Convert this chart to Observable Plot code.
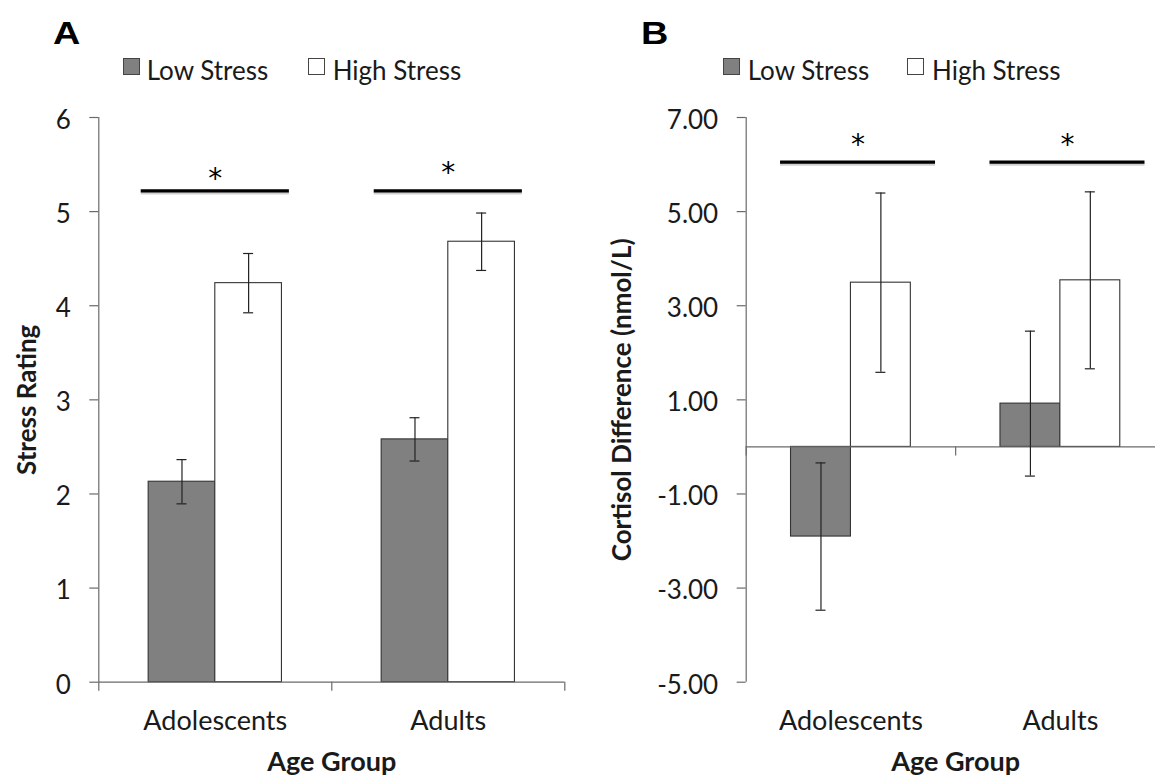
<!DOCTYPE html>
<html>
<head>
<meta charset="utf-8">
<script src="https://cdn.jsdelivr.net/npm/d3@7"></script>
<script src="https://cdn.jsdelivr.net/npm/@observablehq/plot@0.6"></script>
<style>
  html, body { margin: 0; padding: 0; background: #fff; overflow: hidden; }
  #wrap { display: flex; width: 1155px; height: 776px; overflow: hidden; background: #fff; }
  .panel { position: relative; flex: none; overflow: hidden; }
  .head { position: relative; height: 95px; }
  .letter { position: absolute; top: 18px; font-family: "Liberation Sans", Arial, sans-serif; font-weight: bold; font-size: 31px; line-height: 1; color: #000; transform: scaleX(1.22); transform-origin: left center; }
  .sw { position: absolute; top: 58px; width: 15px; height: 15px; border: 1px solid #444; }
  .lt { position: absolute; top: 57px; font-family: Lato, sans-serif; font-size: 26px; line-height: 1; color: #1a1a1a; white-space: nowrap; }
  svg { display: block; }
</style>
</head>
<body>
<div id="wrap"></div>
<script>
// ---------- data ----------
const groups = ["Adolescents", "Adults"];
const conditions = ["Low Stress", "High Stress"];
const conditionColors = ["#808080", "#ffffff"];

// Panel A: stress rating
const ratingLow = [2.13, 2.58];
const ratingLowSE = [0.235, 0.23];
const ratingHigh = [4.24, 4.68];
const ratingHighSE = [0.315, 0.305];
const ratingTicks = [0, 1, 2, 3, 4, 5, 6];
const ratingSigY = [5.22, 5.22];
const ratingStarY = [5.41, 5.47];

// Panel B: cortisol difference
const cortisolLow = [-1.905, 0.92];
const cortisolLowSE = [1.565, 1.54];
const cortisolHigh = [3.49, 3.54];
const cortisolHighSE = [1.905, 1.88];
const cortisolTicks = [-5, -3, -1, 1, 3, 5, 7];
const cortisolSigY = [6.05, 6.05];
const cortisolStarY = [6.55, 6.55];

// ---------- helpers ----------
const BAR = 0.286;       // bar width as a fraction of the group band
const AXIS = "#6a6a6a";
const INK = "#1a1a1a";

function makeRows(low, lowSE, high, highSE) {
  return groups.flatMap((g, i) => [
    {group: g, gi: i, ci: 0, condition: conditions[0], mean: low[i], se: lowSE[i]},
    {group: g, gi: i, ci: 1, condition: conditions[1], mean: high[i], se: highSE[i]}
  ]);
}
const bx1 = d => d.gi + 0.5 - (d.ci === 0 ? BAR : 0);
const bx2 = d => bx1(d) + BAR;
const bxc = d => bx1(d) + BAR / 2;

function chart(o) {
  const rows = makeRows(o.low, o.lowSE, o.high, o.highSE);
  const sig = groups.map((g, i) => ({gi: i, y: o.sigY[i], star: o.starY[i]}));
  const sc = d => d.gi + 0.5 + o.sigShift;
  return Plot.plot({
    width: o.width,
    height: 681,
    marginTop: 22,
    marginBottom: 94.3,
    marginLeft: o.marginLeft,
    marginRight: o.marginRight,
    style: {fontFamily: "Lato, sans-serif", fontSize: "25px", color: INK, background: "white"},
    x: {domain: [0, 2]},
    y: {domain: o.yDomain},
    color: {domain: conditions, range: conditionColors},
    marks: [
      // axis lines and tick marks
      Plot.ruleX([0], {stroke: AXIS, strokeWidth: 1.2}),
      Plot.ruleY(o.yTicks, {x1: () => 0, x2: () => 0, insetLeft: -9, stroke: AXIS, strokeWidth: 1.2}),
      Plot.axisY({ticks: o.yTicks, tickSize: 0, tickPadding: 28, tickFormat: o.tickFormat, fontSize: 26, dy: 3, fill: INK, label: null}),
      Plot.axisX({ticks: [0.5, 1.5], tickSize: 0, tickPadding: 29, tickFormat: v => groups[Math.floor(v)], fontSize: 27, fill: INK, label: null}),
      // bars
      Plot.rectY(rows, {x1: bx1, x2: bx2, y1: () => 0, y2: "mean", fill: "condition", stroke: "#333", strokeWidth: 1.1}),
      Plot.ruleY([0], {stroke: AXIS, strokeWidth: 1.2}),
      Plot.ruleX([0, 1, 2], {y1: () => 0, y2: () => 0, insetBottom: -9, stroke: AXIS, strokeWidth: 1.2}),
      // error bars
      Plot.ruleX(rows, {x: bxc, y1: d => d.mean - d.se, y2: d => d.mean + d.se, stroke: "#222", strokeWidth: 1.2}),
      Plot.ruleY(rows, {x1: bxc, x2: bxc, y: d => d.mean + d.se, insetLeft: -5, insetRight: -5, stroke: "#222", strokeWidth: 1.2}),
      Plot.ruleY(rows, {x1: bxc, x2: bxc, y: d => d.mean - d.se, insetLeft: -5, insetRight: -5, stroke: "#222", strokeWidth: 1.2}),
      // significance bars
      Plot.ruleY(sig, {x1: d => sc(d) - o.sigHalf, x2: d => sc(d) + o.sigHalf, y: "y", dy: 2, stroke: "#999", strokeOpacity: 0.45, strokeWidth: 3}),
      Plot.ruleY(sig, {x1: d => sc(d) - o.sigHalf, x2: d => sc(d) + o.sigHalf, y: "y", stroke: "#000", strokeWidth: 3.2}),
      Plot.text(sig, {x: sc, y: "star", text: () => "*", fontSize: 28, fontFamily: "DejaVu Sans", dy: 6, fill: "#000"}),
      // axis titles
      Plot.text([o.yTitle], {frameAnchor: "left", textAnchor: "middle", lineAnchor: "middle", rotate: -90, dx: o.yTitleDx, fontWeight: "bold", fontSize: 26, fill: INK}),
      Plot.text(["Age Group"], {frameAnchor: "bottom", textAnchor: "middle", lineAnchor: "middle", dy: 80, fontWeight: "bold", fontSize: 27, fill: INK})
    ]
  });
}

function panel(letter, o, leg) {
  const div = document.createElement("div");
  div.className = "panel";
  div.style.width = o.width + "px";
  const head = document.createElement("div");
  head.className = "head";
  const L = document.createElement("span");
  L.className = "letter";
  L.style.left = leg.letterX + "px";
  L.textContent = letter;
  head.appendChild(L);
  conditions.forEach((c, i) => {
    const sw = document.createElement("span");
    sw.className = "sw";
    sw.style.left = leg.swX[i] + "px";
    sw.style.background = conditionColors[i];
    const t = document.createElement("span");
    t.className = "lt";
    t.style.left = leg.txtX[i] + "px";
    t.textContent = c;
    head.appendChild(sw);
    head.appendChild(t);
  });
  div.appendChild(head);
  div.appendChild(chart(o));
  return div;
}

const wrap = document.getElementById("wrap");
wrap.appendChild(panel("A", {
  width: 577, marginLeft: 98.3, marginRight: 12.7,
  low: ratingLow, lowSE: ratingLowSE, high: ratingHigh, highSE: ratingHighSE,
  yDomain: [0, 6], yTicks: ratingTicks, tickFormat: d => String(d),
  sigY: ratingSigY, starY: ratingStarY, sigHalf: 0.318, sigShift: 0,
  yTitle: "Stress Rating", yTitleDx: -71
}, {letterX: 53, swX: [122.7, 307.8], txtX: [146.7, 332.7]}));

wrap.appendChild(panel("B", {
  width: 578, marginLeft: 168.7, marginRight: -9.6,
  low: cortisolLow, lowSE: cortisolLowSE, high: cortisolHigh, highSE: cortisolHighSE,
  yDomain: [-5, 7], yTicks: cortisolTicks, tickFormat: d => d.toFixed(2),
  sigY: cortisolSigY, starY: cortisolStarY, sigHalf: 0.37, sigShift: 0.034,
  yTitle: "Cortisol Difference (nmol/L)", yTitleDx: -124
}, {letterX: 64, swX: [146, 330.3], txtX: [170.7, 355]}));
</script>
</body>
</html>
